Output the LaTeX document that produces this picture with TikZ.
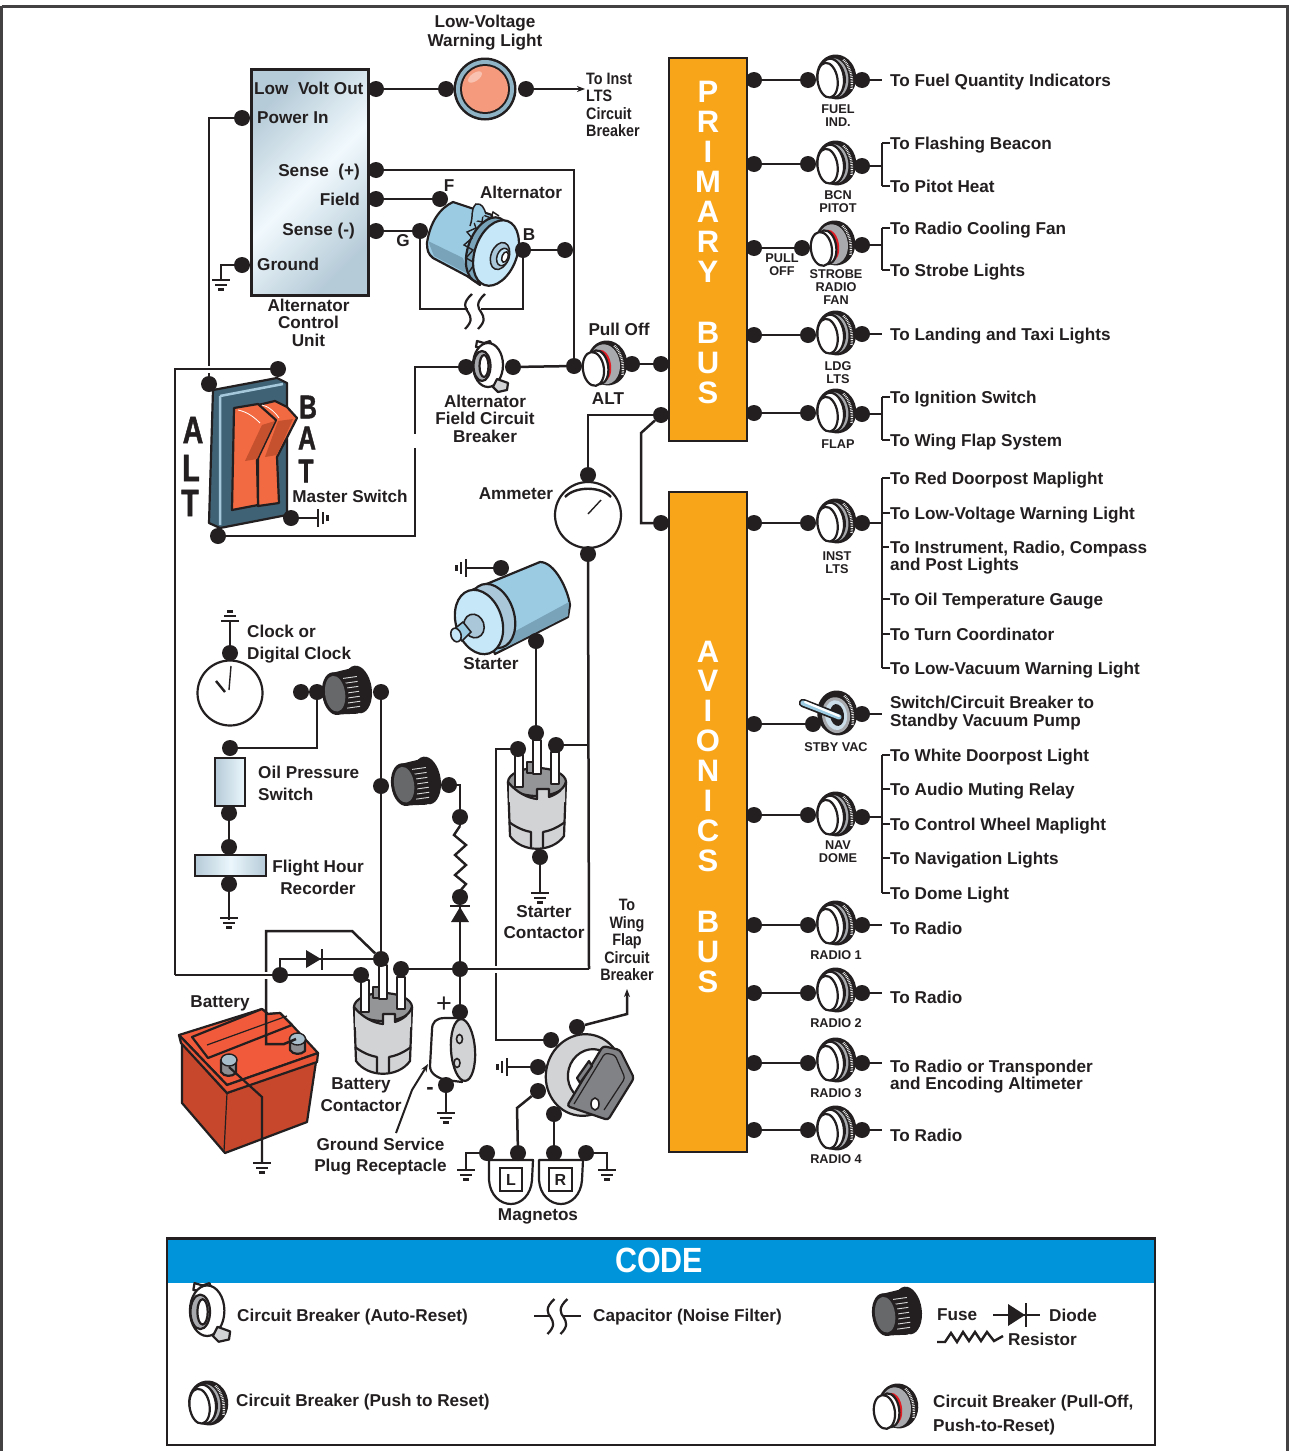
\documentclass[tikz,border=0pt]{standalone}
\usepackage{fontspec}
\setmainfont{Liberation Sans}
\newfontfamily\condfont{Liberation Sans}[FakeStretch=0.87]
\newfontfamily\narrowfont{Liberation Sans}[FakeStretch=0.75,FakeBold=1.2]
\usetikzlibrary{backgrounds,arrows.meta}
\definecolor{ink}{HTML}{231F20}
\definecolor{busor}{HTML}{F9A51A}
\definecolor{codeblue}{HTML}{0095DA}
\definecolor{mgray}{HTML}{A7A9AC}
\definecolor{lgray}{HTML}{D1D3D4}
\definecolor{dgray}{HTML}{808285}
\definecolor{sky}{HTML}{9BCBE3}
\definecolor{skyd}{HTML}{78A3B9}
\definecolor{skyb}{HTML}{A9C7D9}
\definecolor{skyl}{HTML}{C6E7F7}
\definecolor{rock}{HTML}{F26A41}
\definecolor{rockd}{HTML}{C5512F}
\definecolor{plate}{HTML}{3F6274}
\definecolor{batf}{HTML}{C6472B}
\definecolor{batt}{HTML}{F15A3A}
\definecolor{redc}{HTML}{E31B23}
\definecolor{lampc}{HTML}{F59A7C}
\definecolor{lampr}{HTML}{8FB4C6}
\newcommand\fs[2]{\fontsize{#1}{#2}\selectfont\bfseries}
\tikzset{
  dot/.style={circle,fill=ink,inner sep=0pt,minimum size=16pt},
  wire/.style={draw=ink,line width=2.5pt},
  halo/.style={draw=white,line width=7pt},
  obj/.style={draw=ink,line width=2.2pt,line join=round},
  lab/.style={inner sep=0pt,text=ink,align=center,font=\fs{17.15}{17.5},text depth=0pt},
  lft/.style={lab,anchor=west,align=left},
  rgt/.style={lab,anchor=east,align=right},
  small/.style={inner sep=0pt,text=ink,align=center,font=\fs{12.7}{13}},
  cond/.style={inner sep=0pt,text=ink,align=left,anchor=west,font=\condfont\fs{16.5}{17.5}},
  busletter/.style={inner sep=0pt,text=white,font=\fs{31}{31}},
  bigl/.style={inner sep=0pt,text=ink,font=\narrowfont\fs{38}{38}},
  bigr/.style={inner sep=0pt,text=ink,font=\narrowfont\fs{33}{33}},
  gndline/.style={draw=ink,line width=2.4pt}
}
\newcommand\gnd[3]{\begin{scope}[shift={(#1,#2)},rotate=#3]
  \draw[gndline] (-9,0)--(9,0) (-6,4.8)--(6,4.8) (-3,9.6)--(3,9.6);\end{scope}}
\newcommand\cbbody{%
  \fill[ink] (0.5,-2) ellipse [x radius=20,y radius=22.5];
  \draw[white,line width=2.4pt,dash pattern=on .7pt off 1pt] (10,-18) .. controls (16,-10) and (17,2) .. (14,12);}
\newcommand\pushcb[2]{\begin{scope}[shift={(#1,#2)},rotate=8]
  \cbbody
  \fill[mgray] (-1,-1.5) ellipse [x radius=13.5,y radius=19.5];
  \fill[ink] (-1,-1.5) ellipse [x radius=11,y radius=17];
  \draw[obj,fill=white] (-4,-1.5) ellipse [x radius=12,y radius=19.5];
  \draw[obj,fill=white] (-8.5,0) ellipse [x radius=10,y radius=17.5];
\end{scope}}
\newcommand\pullcb[2]{\begin{scope}[shift={(#1,#2)},rotate=8]
  \cbbody
  \fill[mgray] (-2,-1) ellipse [x radius=15,y radius=20];
  \fill[redc] (-5,0) ellipse [x radius=9,y radius=16];
  \draw[obj,fill=white] (-9,1) ellipse [x radius=10,y radius=17];
  \draw[obj,fill=white] (-14,2) ellipse [x radius=10.5,y radius=17];
\end{scope}}
\newcommand\fusecb[2]{\begin{scope}[shift={(#1,#2)},rotate=8]
  \fill[ink] (11,-1) ellipse [x radius=14,y radius=24];
  \fill[ink] (-12,-21) -- (8,-23) -- (8,23) -- (-12,21) -- cycle;
  \draw[white!85!black,line width=.9pt] (-2,-14)--(12,-14) (-1,-9)--(12,-9) (0,-4)--(12,-4) (0,1)--(12,1) (0,6)--(12,6) (-1,11)--(12,11) (-2,16)--(11,16);
  \fill[ink] (-12,0) ellipse [x radius=13,y radius=21.5];
  \fill[dgray!80!black] (-12,0) ellipse [x radius=10,y radius=18];
\end{scope}}
\newcommand\autocb[3]{\begin{scope}[shift={(#1,#2)},scale=#3]
  \draw[obj,fill=white] (-11,-20) -- (-10,-26) -- (-3,-24) -- (3,-26) -- (6,-18) -- cycle;
  \draw[obj,fill=white] (1,-2) ellipse [x radius=15,y radius=22];
  \draw[obj,fill=mgray] (-5,-1) ellipse [x radius=8.5,y radius=15];
  \draw[obj,fill=white] (-3,-1) ellipse [x radius=4.5,y radius=11];
  \draw[obj,fill=lgray] (10,12) -- (21,16) -- (20,23) -- (11,25) -- (6,20) -- cycle;
\end{scope}}
\newcommand\capsym[2]{\begin{scope}[shift={(#1,#2)}]
  \foreach \dx in {-6.5,6.5}{
  \draw[ink,line width=2.2pt,shift={(\dx,0)}] (4,-17) .. controls (-6,-8) and (-3,-3) .. (0,1) .. controls (3,6) and (5,10) .. (-3,18);}
\end{scope}}
\newcommand\contactor[2]{\begin{scope}[shift={(#1,#2)}]
  \draw[obj,fill=lgray] (-29,0) -- (-27,54) .. controls (-15,71) and (15,71) .. (27,54) -- (29,0) -- cycle;
  \draw[obj] (-28,40) .. controls (-20,46) and (-12,49) .. (-6,50) -- (-6,65);
  \draw[obj] (28,40) .. controls (20,46) and (12,49) .. (6,50) -- (6,65);
  \draw[obj,fill=dgray!85] (0,0) ellipse [x radius=29,y radius=14];
  \draw[obj,fill=dgray!85] (-10,-20) rectangle (-3,-9);
  \draw[obj,fill=white] (-22,-27) rectangle (-14,5);
  \draw[obj,fill=white] (-4,-42) rectangle (4,-8);
  \draw[obj,fill=white] (14,-30) rectangle (22,2);
  \fill[lgray] (-28,3) .. controls (-20,11) and (-9,16) .. (0,17) -- (0,7) -- (12,7) -- (12,15) .. controls (20,12) and (26,8) .. (28,3) -- (28,20) -- (-28,20) -- cycle;
  \draw[obj] (-29,0) .. controls (-20,11) and (-9,16) .. (0,17) -- (0,7) -- (12,7) -- (12,15) .. controls (20,12) and (26,8) .. (29,0);
\end{scope}}
\newcommand\zig[1]{\draw[ink,line width=2.4pt,line join=miter] #1;}
\begin{document}
\begin{tikzpicture}[x=1pt,y=-1pt]
\useasboundingbox (0,0) rectangle (1290,1451);
\begin{scope}[on background layer]
  \fill[white] (0,0) rectangle (1290,1451);
  \draw[ink!85,line width=3pt] (1.5,6) -- (1287.5,6) -- (1287.5,1460) (1.5,6) -- (1.5,1460);
  % buses
  \draw[obj,line width=2.6pt,fill=busor,line join=miter] (669,58) rectangle (747,441);
  \draw[obj,line width=2.6pt,fill=busor,line join=miter] (669,492) rectangle (747,1152);
  % control unit
  \draw[obj,line width=3pt,line join=miter,left color=skyb!70!lgray,right color=skyb!70!lgray,middle color=skyl!25!white,shading angle=45] (251,69) rectangle (368,295);
  % lamp
  \fill[ink] (485,89) circle [radius=31.5];
  \fill[lampr] (485,89) circle [radius=29];
  \fill[ink] (485,89) circle [radius=25];
  \fill[lampc] (485,89) circle [radius=23];
  \fill[white,opacity=.4,rotate around={35:(475,77)}] (475,77) ellipse [x radius=8,y radius=4];
  % alternator
  \draw[obj,fill=sky] (427,243) .. controls (430,222) and (440,208) .. (453,202) -- (492,215) -- (480,285) -- (467,276) -- (433,258) .. controls (428,254) and (427,250) .. cycle;
  \draw[draw=none,fill=skyd] (428,241) -- (463,258) -- (468,274) -- (434,256) -- cycle;
  \draw[obj,fill=skyd,rotate around={-20:(488,250)}] (488,250) ellipse [x radius=20,y radius=34];
  \draw[ink,line width=1.4pt,line join=miter] (469,272) -- (475,263) -- (466,258) -- (473,250) -- (464,245) -- (472,238) -- (467,232) -- (476,228) -- (473,220) -- (482,222) -- (483,215) -- (491,218) -- (493,212) -- (499,216);
  \draw[ink,line width=1.5pt,fill=sky] (470,226) .. controls (474,215) and (470,210) .. (476,204) .. controls (482,203) and (484,208) .. (486,214);
  \draw[obj,fill=skyl,rotate around={-20:(496,253)}] (496,253) ellipse [x radius=21,y radius=34];
  \draw[ink,line width=1.5pt,fill=skyb,rotate around={-20:(500,256)}] (500,256) ellipse [x radius=9,y radius=14];
  \draw[ink,line width=1.5pt,fill=skyl,rotate around={-20:(503,257)}] (503,257) ellipse [x radius=6,y radius=9];
  \draw[ink,line width=1.5pt,fill=white,rotate around={-20:(505,257)}] (505,257) ellipse [x radius=3,y radius=5.5];
  % master switch
  \draw[obj,fill=plate] (213,390) -- (277,378) -- (287,383) -- (287,515) -- (220,528) -- (209,523) -- cycle;
  \draw[skyb!80!sky,line width=2.5pt] (220,396) -- (283,384) (220,396) -- (220,525);
  \draw[obj,fill=rock] (258,405) -- (275,401) -- (287,407) -- (297,418) -- (277,457) -- (279,503) -- (258,506) -- cycle;
  \fill[rockd] (278,421) -- (293,419) -- (277,455) -- (265,457) -- cycle;
  \draw[obj,fill=rock] (234,408) -- (258,404) -- (276,420) -- (257,460) -- (258,505) -- (232,510) -- cycle;
  \fill[rockd] (262,425) -- (275,421) -- (257,459) -- (245,461) -- cycle;
  \draw[white,line width=.8pt] (238,410) .. controls (248,412) and (255,418) .. (260,423) (262,405) .. controls (268,406) and (275,412) .. (279,418);
  % starter
  \draw[obj,fill=sky] (472,590) -- (540,562) .. controls (555,562) and (568,590) .. (570,605) -- (568,617) -- (495,654) -- cycle;
  \fill[skyd] (510,634) -- (569,602) -- (568,616) -- (505,648) -- cycle;
  \draw[obj,fill=skyb,rotate around={18:(492,616)}] (492,616) ellipse [x radius=22,y radius=33];
  \draw[obj,fill=skyl,rotate around={18:(479,622)}] (479,622) ellipse [x radius=23,y radius=33];
  \draw[ink,line width=1.6pt,fill=skyb,rotate around={18:(474,626)}] (474,626) ellipse [x radius=10,y radius=12];
  \draw[ink,line width=1.6pt,fill=sky] (463,622) -- (471,632) -- (462,641) -- (453,630) -- cycle;
  \draw[ink,line width=1.6pt,fill=skyl,rotate around={18:(456,635)}] (456,635) ellipse [x radius=5,y radius=7];
  % contactors
  \contactor{537}{782}
  \contactor{383}{1007}
  % oil pressure and flight hour
  \draw[obj,line width=2.6pt,line join=miter,left color=skyb!70!lgray,right color=skyl!35!white] (215,758) rectangle (245,806);
  \draw[obj,line width=2.6pt,line join=miter,left color=skyb!70!lgray,right color=skyb!70!lgray,middle color=skyl!35!white] (195,855) rectangle (266,876);
  % clock and ammeter
  \draw[obj,fill=white] (230,693) circle [radius=32.5];
  \draw[obj,fill=white] (588,515) circle [radius=33];
  \draw[ink,line width=2.4pt] (565,497) .. controls (575,486) and (601,486) .. (611,497);
  \draw[ink,line width=1.4pt] (588,514) -- (601,500);
  \draw[ink,line width=1.4pt] (231,666) -- (229,690);
  \draw[ink,line width=2.4pt] (216,681) -- (225,692);
  % battery
  \draw[obj,fill=batf] (182,1043) -- (182,1103) -- (225,1153) -- (307,1122) -- (317,1055) -- (227,1093) -- cycle;
  \draw[ink,line width=1.2pt] (227,1093) -- (224,1152);
  \draw[obj,fill=batt] (179,1035) -- (262,1009) -- (268,1014) -- (280,1013) -- (292,1025) -- (318,1053) -- (227,1085) -- cycle;
  \draw[obj,fill=batt] (192,1037) -- (262,1009) -- (268,1014) -- (280,1013) -- (292,1025) -- (208,1058) -- cycle;
  \draw[ink,line width=1.2pt] (207,1045) -- (287,1016);
  \draw[obj,fill=batt!80!batf] (179,1035) -- (227,1085) -- (318,1053) -- (317,1062) -- (227,1093) -- (181,1043) -- cycle;
  \draw[obj,fill=dgray!90] (221,1060) -- (221,1072) .. controls (224,1077) and (232,1077) .. (236,1073) -- (236,1060) -- cycle;
  \draw[ink,line width=1.4pt,fill=skyb!70!mgray] (229,1060) ellipse [x radius=8,y radius=6];
  \draw[obj,fill=dgray!90] (290,1038) -- (290,1050) .. controls (293,1055) and (301,1055) .. (305,1051) -- (305,1038) -- cycle;
  \draw[ink,line width=1.4pt,fill=skyb!70!mgray] (297.5,1039) ellipse [x radius=8,y radius=6];
  % plug
  \draw[obj,fill=white] (445,1018) .. controls (436,1018) and (432,1022) .. (432,1030) -- (430,1066) .. controls (430,1074) and (438,1078) .. (446,1080) -- (462,1082) -- (462,1018) -- cycle;
  \draw[obj,fill=lgray,rotate around={4:(463,1050)}] (463,1050) ellipse [x radius=12,y radius=31];
  \draw[ink,line width=1.6pt] (459.5,1039) ellipse [x radius=3,y radius=4.5] (457,1063) ellipse [x radius=3,y radius=4.5];
  % ignition
  \draw[obj,fill=lgray,rotate around={-15:(584,1075)}] (584,1075) ellipse [x radius=38,y radius=41];
  \draw[obj,fill=white,rotate around={-15:(592,1075)}] (592,1075) ellipse [x radius=24,y radius=26];
  \draw[obj,fill=dgray,rounded corners=3pt] (567,1106) -- (603,1046) -- (620,1050) -- (634,1078) -- (608,1120) -- cycle;
  \draw[ink,line width=1.2pt,rounded corners=3pt] (574,1104) -- (605,1053) -- (615,1055) -- (625,1078) -- (604,1110);
  \draw[ink,line width=1.6pt,fill=white] (595,1104) ellipse [x radius=4,y radius=6];
  \draw[obj,fill=dgray] (577,1078) -- (589,1061) -- (592,1066) -- (580,1083) -- cycle;
  % magnetos
  \draw[obj,fill=white] (489,1160) -- (533,1160) -- (532,1180) .. controls (531,1195) and (521,1204) .. (511,1204) .. controls (500,1204) and (490,1195) .. (489,1180) -- cycle;
  \draw[obj,fill=white] (539,1160) -- (583,1160) -- (582,1180) .. controls (581,1195) and (571,1204) .. (561,1204) .. controls (550,1204) and (540,1195) .. (539,1180) -- cycle;
  \draw[obj,line join=miter] (500,1168) rectangle (522,1191);
  \draw[obj,line join=miter] (549,1168) rectangle (572,1191);
  % right column devices
  \pushcb{836}{79}\pushcb{836}{165}\pullcb{835}{245}\pushcb{836}{335}\pushcb{836}{413}\pushcb{836}{523}
  \pushcb{836}{816}\pushcb{836}{925}\pushcb{836}{992}\pushcb{836}{1062}\pushcb{836}{1130}
  \pullcb{607}{365}
  \fusecb{347}{692}\fusecb{416}{783}
  \autocb{487}{367}{1}
  % toggle
  \begin{scope}[shift={(837,715)},rotate=8]\cbbody
  \fill[mgray] (-1,0) ellipse [x radius=14,y radius=18];
  \fill[skyb!60!white] (-1,0) ellipse [x radius=11,y radius=15];
  \fill[ink] (0,0) ellipse [x radius=7,y radius=11];\end{scope}
  \draw[ink,line width=8.5pt,line cap=round] (803,703) -- (839,717);
  \draw[sky,line width=5pt,line cap=round] (803,703) -- (839,717);
  \draw[white,line width=2.2pt,line cap=round] (805,702) -- (839,716);
  % code panel
  \draw[ink,line width=2.6pt,line join=miter] (167,1238.5) rectangle (1155,1445);
  \fill[codeblue] (168.3,1239.8) rectangle (1153.7,1283);
  \autocb{206}{1313}{1.15}
  \capsym{557}{1316}
  \draw[ink,line width=2.4pt] (534,1316) -- (551,1316) (563,1316) -- (581,1316);
  \fusecb{897}{1313}
  \draw[ink,line width=2.4pt] (993,1315) -- (1040,1315);
  \fill[ink] (1008,1304) -- (1025,1315) -- (1008,1326) -- cycle;
  \draw[ink,line width=2.4pt] (1026,1303) -- (1026,1327);
  \zig{(937,1342) -- (945,1342) -- (951,1333) -- (957,1342) -- (963,1332) -- (969,1341) -- (975,1332) -- (981,1341) -- (987,1332) -- (994,1341) -- (1003,1336)}
  \pushcb{208}{1405}
  \pullcb{898}{1408}
\end{scope}

% ---- bus letters
\foreach \ch/\yy in {P/92,R/122,I/152,M/182,A/212,R/242,Y/272,B/333,U/363,S/393}
  \node[busletter] (pb\yy) at (708,\yy) {\ch};
\foreach \ch/\yy in {A/652,V/681,I/711,O/741,N/771,I/801,C/831,S/861,B/922,U/952,S/982}
  \node[busletter] (ab\yy) at (708,\yy) {\ch};
\node[inner sep=0pt,text=white,font=\condfont\fs{35}{35}] (codet) at (659,1260) {CODE};

% ---- right column: dots, wires, labels
\newcommand\rowdots[3]{%
  \node[dot] (#1bus) at (754,#2) {};
  \node[dot] (#1in) at (808,#2) {};
  \node[dot] (#1out) at (862,#3) {};
  \draw[wire] (#1bus) -- (#1in);
  \coordinate (#1j) at (882,#3);
  \draw[wire] (#1out) -- (#1j);}
\newcommand\dest[4]{% name, row, y, text
  \node[lft] (#1) at (890,#3) {#4};
  \coordinate (#1c) at (882,#3);
  \draw[wire] (#1c) -- (#1.west);}
\newcommand\destnl[3]{\node[lft] (#1) at (890,#2) {#3};}

\rowdots{fuel}{80}{80}
\destnl{tfuel}{80}{To Fuel Quantity Indicators}
\node[small] (lfuel) at (838,115.5) {FUEL\\IND.};

\rowdots{bcn}{164}{166}
\dest{tflash}{bcn}{143}{To Flashing Beacon}
\dest{tpitot}{bcn}{186}{To Pitot Heat}
\draw[wire] (tflashc) -- (tpitotc);
\node[small] (lbcn) at (838,202) {BCN\\PITOT};

\node[dot] (strobebus) at (754,248) {};
\node[dot] (strobein) at (802,248) {};
\node[dot] (strobeout) at (862,245) {};
\draw[wire] (strobebus) -- (strobein);
\coordinate (strobej) at (882,245);
\draw[wire] (strobeout) -- (strobej);
\dest{tradio}{strobe}{228}{To Radio Cooling Fan}
\dest{tstrobe}{strobe}{270}{To Strobe Lights}
\draw[wire] (tradioc) -- (tstrobec);
\node[small] (lpull) at (782,265) {PULL\\OFF};
\node[small] (lstrobe) at (836,287) {STROBE\\RADIO\\FAN};

\rowdots{ldg}{335}{334}
\destnl{tldg}{334}{To Landing and Taxi Lights}
\node[small] (lldg) at (838,373) {LDG\\LTS};

\rowdots{flap}{413}{414}
\dest{tign}{flap}{397}{To Ignition Switch}
\dest{twing}{flap}{440}{To Wing Flap System}
\draw[wire] (tignc) -- (twingc);
\node[small] (lflap) at (838,444) {FLAP};

\rowdots{inst}{523}{523}
\dest{tred}{inst}{478}{To Red Doorpost Maplight}
\dest{tlow}{inst}{513}{To Low-Voltage Warning Light}
\node[lft] (tins) at (890,556) {To Instrument, Radio, Compass\\and Post Lights};
\coordinate (tinsc) at (882,547);
\coordinate (tinsd) at (889,547);
\draw[wire] (tinsc) -- (tinsd);
\dest{toil}{inst}{599}{To Oil Temperature Gauge}
\dest{tturn}{inst}{634}{To Turn Coordinator}
\dest{tvac}{inst}{668}{To Low-Vacuum Warning Light}
\draw[wire] (tredc) -- (tvacc);
\node[small] (linst) at (837,562.5) {INST\\LTS};

\node[dot] (stbybus) at (754,724) {};
\node[dot] (stbyin) at (813,724) {};
\node[dot] (stbyout) at (862,714) {};
\draw[wire] (stbybus) -- (stbyin);
\coordinate (stbyj) at (882,714);
\draw[wire] (stbyout) -- (stbyj);
\node[lft] (tstby) at (890,711.5) {Switch/Circuit Breaker to\\Standby Vacuum Pump};
\node[small] (lstby) at (836,747) {STBY VAC};

\rowdots{nav}{815}{817}
\dest{twhite}{nav}{755}{To White Doorpost Light}
\dest{taudio}{nav}{789}{To Audio Muting Relay}
\dest{tcw}{nav}{824}{To Control Wheel Maplight}
\dest{tnavl}{nav}{858}{To Navigation Lights}
\dest{tdome}{nav}{893}{To Dome Light}
\draw[wire] (twhitec) -- (tdomec);
\node[small] (lnav) at (838,852) {NAV\\DOME};

\rowdots{rone}{925}{925}
\destnl{tr1}{928}{To Radio}
\node[small] (lr1) at (836,955) {RADIO 1};
\rowdots{rtwo}{993}{993}
\destnl{tr2}{997}{To Radio}
\node[small] (lr2) at (836,1023) {RADIO 2};
\rowdots{rthr}{1063}{1063}
\node[lft] (tr3) at (890,1075) {To Radio or Transponder\\and Encoding Altimeter};
\node[small] (lr3) at (836,1093) {RADIO 3};
\rowdots{rfou}{1130}{1130}
\destnl{tr4}{1135}{To Radio}
\node[small] (lr4) at (836,1159) {RADIO 4};

% ---- control unit
\node[lft] (tlvo) at (254,88) {Low\ \ Volt Out};
\node[lft] (tpin) at (257,118) {Power In};
\node[rgt] (tsp) at (360,170) {Sense\ \ (+)};
\node[rgt] (tfld) at (360,199) {Field};
\node[rgt] (tsm) at (355,229) {Sense (-)};
\node[lft] (tgrd) at (257,264) {Ground};
\node[lab] (tacu) at (308.5,322.5) {Alternator\\Control\\Unit};
\node[dot] (lvo) at (376,89) {};
\node[dot] (pin) at (242,118) {};
\node[dot] (sp) at (376,170) {};
\node[dot] (fld) at (376,199) {};
\node[dot] (sm) at (376,231) {};
\node[dot] (agnd) at (242,265) {};
\coordinate (agg) at (221,280);
\gnd{221}{280}{0}
\draw[wire] (agnd) -| (agg);

% lamp
\node[lab,font=\fs{17.15}{19}] (tlamp) at (485,30.5) {Low-Voltage\\Warning Light};
\node[dot] (lmpa) at (446,89) {};
\node[dot] (lmpb) at (526,89) {};
\draw[wire] (lvo) -- (lmpa);
\node[cond] (tinst) at (586,105) {To Inst\\LTS\\Circuit\\Breaker};
\coordinate (tinsta) at (585,89);
\draw[wire,-{Stealth[length=8pt,width=6pt]}] (lmpb) -- (tinsta);

% alternator wiring
\node[dot] (af) at (440,199) {};
\node[dot] (ag) at (420,231) {};
\node[dot] (ab) at (523,250) {};
\node[dot] (aj) at (565,250) {};
\node[dot] (alttie) at (574,366) {};
\draw[wire] (fld) -- (af);
\draw[wire] (sm) -- (ag);
\draw[wire] (ab) -- (aj);
\coordinate (capl) at (468,309);
\coordinate (capr) at (481,309);
\draw[wire] (ag) |- (capl);
\draw[wire] (capr) -| (ab);
\capsym{474.5}{311}
\draw[wire] (sp) -| (alttie);
\node[lab] (talt) at (521,192) {Alternator};
\node[lab] (tf) at (449,186) {F};
\node[lab] (tg) at (403,241) {G};
\node[lab] (tb) at (529,235) {B};

% alt breaker and field breaker
\node[dot] (fcba) at (466,367) {};
\node[dot] (fcbb) at (513,367) {};
\node[dot] (altb) at (632,364) {};
\node[dot] (altc) at (661,364) {};
\draw[wire] (fcbb) -- (alttie);
\draw[wire] (altb) -- (altc);
\node[lab] (tpull) at (619,329) {Pull Off};
\node[lab] (taltl) at (608,399) {ALT};
\node[lab] (tfcb) at (485,418.5) {Alternator\\Field Circuit\\Breaker};

% master switch wiring
\node[dot] (msa) at (209,384) {};
\node[dot] (msb) at (278,369) {};
\node[dot] (msc) at (218,536) {};
\node[dot] (msd) at (291,518) {};
\coordinate (msg) at (318,518);
\gnd{318}{518}{90}
\draw[wire] (msd) -- (msg);
\draw[wire] (pin) -| (msa);
\coordinate (batline) at (175,975);
\node[dot] (djoin) at (280,975) {};
\node[dot] (bcl) at (361,975) {};
\draw[halo] (204,369) -- (214,369);
\draw[wire] (msb) -| (batline);
\coordinate (bk1) at (266,931);
\coordinate (bk2) at (352,931);
\coordinate (bk3) at (266,1044);
\coordinate (bk4) at (284,1044);
\coordinate (bk5) at (296,1039);
\node[dot] (bct) at (381,959) {};
\draw[wire] (bct) -- (bk2) -- (bk1) -- (bk3) -- (bk4) -- (bk5);
\draw[halo] (262,975) -- (270,975);
\draw[wire] (batline) -- (djoin);
\draw[wire] (djoin) -- (bcl);
\coordinate (fld1) at (415,367);
\coordinate (fld2) at (415,536);
\coordinate (fldg1) at (415,434);
\coordinate (fldg2) at (415,448);
\draw[wire] (fcba) -- (fld1) -- (fldg1);
\draw[wire] (fldg2) -- (fld2) -- (msc);
\node[bigl] (ta1) at (193,430) {A};
\node[bigl] (ta2) at (191,468) {L};
\node[bigl] (ta3) at (190,503) {T};
\node[bigr] (tb1) at (308,407) {B};
\node[bigr] (tb2) at (307,438) {A};
\node[bigr] (tb3) at (306,471) {T};
\node[lab] (tms) at (350,496) {Master Switch};

% ammeter
\node[dot] (amb) at (661,415) {};
\node[dot] (amt) at (588,475) {};
\node[dot] (amd) at (588,554) {};
\node[dot] (avi) at (661,523) {};
\coordinate (amk1) at (641,433);
\coordinate (amk2) at (641,523);
\draw[wire] (amb) -| (amt);
\draw[wire] (amb) -- (amk1) -- (amk2) -- (avi);
\node[lab] (tam) at (516,494) {Ammeter};

% starter
\node[dot] (sta) at (501,568) {};
\node[dot] (stb) at (536,641) {};
\coordinate (stg) at (466,568);
\gnd{466}{568}{-90}
\draw[wire] (sta) -- (stg);
\node[lab] (tst) at (491,664) {Starter};
\node[dot] (sca) at (518,749) {};
\node[dot] (scb) at (536,733) {};
\node[dot] (scc) at (556,745) {};
\node[dot] (scd) at (540,857) {};
\coordinate (scg) at (540,893);
\gnd{540}{893}{0}
\draw[wire] (stb) -- (scb);
\draw[wire] (scd) -- (scg);
\coordinate (mn1) at (589,969);
\draw[wire] (amd) -- (mn1);
\coordinate (sct) at (589,745);
\draw[wire] (scc) -- (sct);
\node[lab,font=\fs{17.15}{21}] (tsc) at (544,922) {Starter\\Contactor};

% clock chain
\node[dot] (clt) at (230,653) {};
\coordinate (clg) at (230,622);
\gnd{230}{621}{180}
\draw[wire] (clt) -- (clg);
\node[dot] (clr) at (301,692) {};
\node[dot] (fua) at (317,692) {};
\node[dot] (fub) at (381,692) {};
\draw[wire] (clr) -- (fua);
\node[lft,font=\fs{17.15}{22}] (tclk) at (247,642) {Clock or\\Digital Clock};
\node[dot] (opt) at (230,748) {};
\draw[wire] (fua) |- (opt);
\node[dot] (opb) at (229,813) {};
\node[dot] (frt) at (229,847) {};
\node[dot] (frb) at (229,884) {};
\coordinate (frg) at (229,920);
\gnd{229}{918}{0}
\draw[wire] (opb) -- (frt);
\draw[wire] (frb) -- (frg);
\node[lft,font=\fs{17.15}{22}] (toilp) at (258,783) {Oil Pressure\\Switch};
\node[lab,font=\fs{17.15}{22}] (tfhr) at (318,877) {Flight Hour\\Recorder};
\draw[wire] (fub) -- (bct);
\node[dot] (fuc) at (381,786) {};
\node[dot] (fud) at (449,785) {};
\coordinate (fuk) at (460,785);
\node[dot] (ra) at (460,817) {};
\draw[wire] (fud) -- (fuk) -- (ra);
\coordinate (rz1) at (460,826);
\coordinate (rz2) at (460,891);
\draw[ink,line width=2.4pt] (rz1) -- (454,835) -- (466,845) -- (455,855) -- (466,865) -- (455,875) -- (466,884) -- (rz2);
\draw[wire] (ra) -- (rz1);
\node[dot] (rb) at (460,897) {};
\draw[wire] (rz2) -- (rb);
\coordinate (dbar) at (460,906);
\draw[ink,line width=2.4pt] (450,906) -- (470,906);
\fill[ink] (460,907) -- (469,922) -- (451,922) -- cycle;
\node[dot] (mj) at (460,969) {};
\node[dot] (bcr) at (401,969) {};
\draw[wire] (dbar) -- (mj);
\draw[wire] (bcr) -- (mj);

% horizontal diode
\coordinate (hd1) at (280,959);
\draw[wire] (djoin) -- (hd1) -- (bct);
\fill[ink] (306,950) -- (321,959) -- (306,968) -- cycle;
\draw[ink,line width=2.4pt] (322,949) -- (322,970);

% battery & labels
\coordinate (bg1) at (229,1067);
\coordinate (bg2) at (262,1097);
\coordinate (bg3) at (262,1163);
\gnd{262}{1163}{0}
\draw[wire,line width=2.2pt] (bg1) -- (bg2) -- (bg3);
\node[lab] (tbat) at (220,1002) {Battery};
\node[lab,font=\fs{17.15}{22}] (tbc) at (361,1095) {Battery\\Contactor};
% plug
\node[dot] (pla) at (460,1012) {};
\node[dot] (plb) at (446,1085) {};
\coordinate (plg) at (446,1113);
\gnd{446}{1113}{0}
\draw[wire] (mj) -- (pla);
\draw[wire] (plb) -- (plg);
\node[lab,font=\fontsize{27}{27}\selectfont] (tplus) at (444,1005) {+};
\node[lab,font=\fs{22}{22}] (tminus) at (430,1091) {-};
\node[lab,font=\fs{17.15}{21}] (tgsp) at (380.5,1155) {Ground Service\\Plug Receptacle};
\coordinate (pa1) at (396,1133);
\coordinate (pa2) at (412,1090);
\coordinate (pa3) at (428,1064);
\draw[wire,line width=2pt,-{Stealth[length=8pt,width=6pt]}] (pa1) -- (pa2) -- (pa3);
% ignition wiring
\node[dot] (iga) at (551,1040) {};
\node[dot] (igb) at (577,1027) {};
\node[dot] (igc) at (538,1067) {};
\node[dot] (igd) at (538,1091) {};
\node[dot] (ige) at (554,1114) {};
\coordinate (igl) at (496,749);
\coordinate (igl2) at (496,1040);
\draw[wire] (sca) -- (igl) -- (igl2) -- (iga);
\draw[halo] (491,969) -- (501,969);
\draw[wire] (mj) -- (mn1);
\coordinate (igk1) at (627,1014);
\coordinate (igk2) at (627,989);
\draw[wire,-{Stealth[length=8pt,width=6pt]}] (igb) -- (igk1) -- (igk2);
\coordinate (igg) at (507,1067);
\gnd{507}{1067}{-90}
\draw[wire] (igc) -- (igg);
\node[dot] (mga) at (487,1153) {};
\node[dot] (mgb) at (518,1153) {};
\node[dot] (mgc) at (554,1153) {};
\node[dot] (mgd) at (586,1153) {};
\coordinate (igk3) at (517,1108);
\draw[wire] (igd) -- (igk3) -- (mgb);
\draw[wire] (ige) -- (mgc);
\coordinate (mgl) at (466,1170);
\coordinate (mgr) at (607,1170);
\gnd{466}{1170}{0}
\gnd{607}{1170}{0}
\draw[wire] (mga) -| (mgl);
\draw[wire] (mgd) -| (mgr);
\node[lab,font=\fs{16}{16}] (tml) at (511,1180) {L};
\node[lab,font=\fs{16}{16}] (tmr) at (560.5,1180) {R};
\node[lab] (tmag) at (538,1215) {Magnetos};
\node[cond,align=center,anchor=center] (twf) at (627,940) {To\\Wing\\Flap\\Circuit\\Breaker};

% code panel text
\node[lft] (c1) at (237,1315) {Circuit Breaker (Auto-Reset)};
\node[lft] (c2) at (593,1315) {Capacitor (Noise Filter)};
\node[lft] (c3) at (937,1315) {Fuse};
\node[lft] (c4) at (1049,1315) {Diode};
\node[lft] (c5) at (1008,1339) {Resistor};
\node[lft] (c6) at (236,1400) {Circuit Breaker (Push to Reset)};
\node[lft,font=\fs{17.15}{24}] (c7) at (933,1413) {Circuit Breaker (Pull-Off,\\Push-to-Reset)};
\end{tikzpicture}
\end{document}
